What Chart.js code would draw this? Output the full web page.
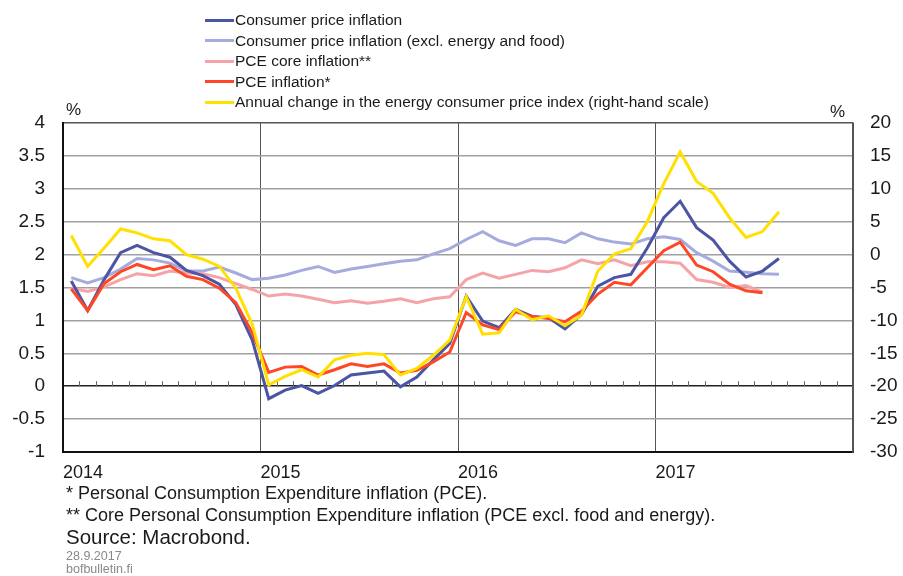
<!DOCTYPE html>
<html>
<head>
<meta charset="utf-8">
<script src="https://cdn.jsdelivr.net/npm/chart.js@4/dist/chart.umd.min.js"></script>
<style>
  html, body { margin: 0; padding: 0; background: #fff; }
  #wrap { position: relative; width: 903px; height: 576px; font-family: "Liberation Sans", Arial, sans-serif; color: #1a1a1a; }
  #chart { position: absolute; left: 0; top: 0; }
  #legend { position: absolute; left: 205px; top: 10px; font-size: 15.5px; }
  #legend .row { height: 20.5px; display: flex; align-items: center; white-space: nowrap; }
  #legend .sw { width: 29px; height: 3px; margin-right: 1px; }
  .pct { position: absolute; font-size: 17px; }
  .note { position: absolute; left: 66px; white-space: nowrap; }
</style>
</head>
<body>
<div id="wrap">
  <canvas id="chart" width="903" height="576"></canvas>
  <div id="legend"></div>
  <div class="pct" style="left:66px;top:100px;">%</div>
  <div class="pct" style="left:830px;top:102px;">%</div>
  <div class="note" style="top:483px;font-size:18px;">* Personal Consumption Expenditure inflation (PCE).</div>
  <div class="note" style="top:505px;font-size:18px;">** Core Personal Consumption Expenditure inflation (PCE excl. food and energy).</div>
  <div class="note" style="top:525px;font-size:20.5px;">Source: Macrobond.</div>
  <div class="note" style="top:549px;font-size:12.5px;color:#888;">28.9.2017</div>
  <div class="note" style="top:562px;font-size:12.5px;color:#888;">bofbulletin.fi</div>
</div>
<script>
// monthly, Jan 2014 onwards
const years = ['2014', '2015', '2016', '2017'];

const cpi = [
  1.6, 1.15, 1.62, 2.03, 2.14, 2.03, 1.96, 1.76, 1.68, 1.55, 1.24, 0.7,
  -0.19, -0.06, 0.01, -0.11, 0.01, 0.17, 0.2, 0.23, -0.01, 0.14, 0.4, 0.65,
  1.37, 0.99, 0.89, 1.17, 1.06, 1.04, 0.87, 1.09, 1.52, 1.65, 1.7, 2.1,
  2.56, 2.81, 2.41, 2.22, 1.9, 1.66, 1.75, 1.94
];
const cpiCore = [
  1.65, 1.57, 1.65, 1.78, 1.94, 1.92, 1.87, 1.75, 1.75, 1.81, 1.72, 1.62,
  1.64, 1.69, 1.76, 1.82, 1.73, 1.78, 1.82, 1.86, 1.9, 1.92, 2.01, 2.09,
  2.23, 2.35, 2.21, 2.14, 2.24, 2.24, 2.18, 2.33, 2.24, 2.19, 2.16, 2.24,
  2.27, 2.23, 2.03, 1.9, 1.75, 1.73, 1.71, 1.7
];
const pceCore = [
  1.49, 1.44, 1.51, 1.62, 1.71, 1.68, 1.75, 1.72, 1.71, 1.65, 1.56, 1.47,
  1.37, 1.4, 1.37, 1.32, 1.27, 1.3, 1.26, 1.29, 1.33, 1.27, 1.33, 1.36,
  1.62, 1.72, 1.64, 1.7, 1.76, 1.74, 1.8, 1.92, 1.86, 1.92, 1.83, 1.89,
  1.89, 1.87, 1.62, 1.58, 1.5, 1.53, 1.43
];
const pce = [
  1.48, 1.15, 1.56, 1.74, 1.85, 1.77, 1.83, 1.67, 1.62, 1.49, 1.27, 0.81,
  0.21, 0.29, 0.3, 0.17, 0.25, 0.34, 0.3, 0.34, 0.2, 0.24, 0.37, 0.52,
  1.12, 0.93, 0.86, 1.13, 1.06, 1.03, 0.98, 1.14, 1.4, 1.58, 1.54, 1.8,
  2.06, 2.19, 1.84, 1.74, 1.55, 1.45, 1.42
];
const energy = [
  2.9, -1.8, 1.0, 3.9, 3.3, 2.4, 2.1, 0.0, -0.7, -1.8, -5.1, -10.6,
  -19.8, -18.5, -17.5, -18.6, -16.0, -15.3, -15.0, -15.2, -18.3, -17.3, -15.3, -13.0,
  -6.4, -12.1, -11.9, -8.3, -9.9, -9.3, -10.8, -9.2, -2.5, 0.1, 0.9, 5.0,
  10.8, 15.6, 11.1, 9.3, 5.6, 2.6, 3.5, 6.5
];

// month i sits in the middle of its slot
const toPoints = arr => arr.map((v, i) => ({ x: i + 0.5, y: v }));

const series = [
  { label: 'Consumer price inflation', data: cpi, color: '#4b55a3', axis: 'y', order: 2 },
  { label: 'Consumer price inflation (excl. energy and food)', data: cpiCore, color: '#a5abdc', axis: 'y', order: 4 },
  { label: 'PCE core inflation**', data: pceCore, color: '#f5a3a9', axis: 'y', order: 3 },
  { label: 'PCE inflation*', data: pce, color: '#ff4726', axis: 'y', order: 1 },
  { label: 'Annual change in the energy consumer price index (right-hand scale)', data: energy, color: '#ffe000', axis: 'y1', order: 0 }
];

const legendEl = document.getElementById('legend');
series.forEach(s => {
  const row = document.createElement('div');
  row.className = 'row';
  row.innerHTML = '<span class="sw" style="background:' + s.color + '"></span>' + s.label;
  legendEl.appendChild(row);
});

// little month ticks sitting on the zero line
const monthTicks = {
  id: 'monthTicks',
  beforeDatasetsDraw(chart) {
    const { ctx, scales } = chart;
    const y0 = scales.y.getPixelForValue(0);
    ctx.save();
    ctx.strokeStyle = '#666';
    ctx.lineWidth = 1;
    for (let m = 1; m < 48; m++) {
      if (m % 12 === 0) continue;
      const x = Math.round(scales.x.getPixelForValue(m)) + 0.5;
      ctx.beginPath();
      ctx.moveTo(x, y0);
      ctx.lineTo(x, y0 - 5);
      ctx.stroke();
    }
    ctx.restore();
  }
};

const tickFont = { family: "'Liberation Sans', Arial, sans-serif", size: 19 };
const plainNum = v => String(Number(v.toFixed(1)));

new Chart(document.getElementById('chart'), {
  type: 'line',
  data: {
    datasets: series.map(s => ({
      label: s.label,
      data: toPoints(s.data),
      borderColor: s.color,
      backgroundColor: s.color,
      borderWidth: 3,
      pointRadius: 0,
      tension: 0,
      fill: false,
      yAxisID: s.axis,
      order: s.order
    }))
  },
  options: {
    responsive: false,
    animation: false,
    layout: { padding: { top: 123, bottom: 84, left: 0, right: 0 } },
    plugins: {
      legend: { display: false },
      tooltip: { enabled: false }
    },
    scales: {
      x: {
        type: 'linear',
        min: 0,
        max: 48,
        afterFit: s => { s.height = 40; },
        ticks: {
          stepSize: 12,
          align: 'start',
          padding: 10,
          color: '#1a1a1a',
          font: { family: tickFont.family, size: 18 },
          maxRotation: 0,
          callback: v => years[v / 12] || ''
        },
        grid: { color: '#555', lineWidth: 1, drawTicks: false },
        border: { color: '#111', width: 2 }
      },
      y: {
        position: 'left',
        min: -1,
        max: 4,
        afterFit: s => { s.width = 63; },
        ticks: { stepSize: 0.5, padding: 18, color: '#1a1a1a', font: tickFont, callback: plainNum },
        grid: {
          drawTicks: false,
          lineWidth: 1.5,
          color: c => c.tick.value === 0 ? '#222' : (c.tick.value === 4 ? '#555' : '#a0a0a0')
        },
        border: { color: '#111', width: 2 }
      },
      y1: {
        position: 'right',
        min: -30,
        max: 20,
        afterFit: s => { s.width = 50; },
        ticks: { stepSize: 5, padding: 17, color: '#1a1a1a', font: tickFont, callback: plainNum },
        grid: { drawOnChartArea: false, drawTicks: false },
        border: { color: '#555', width: 1.5 }
      }
    }
  },
  plugins: [monthTicks]
});
</script>
</body>
</html>
